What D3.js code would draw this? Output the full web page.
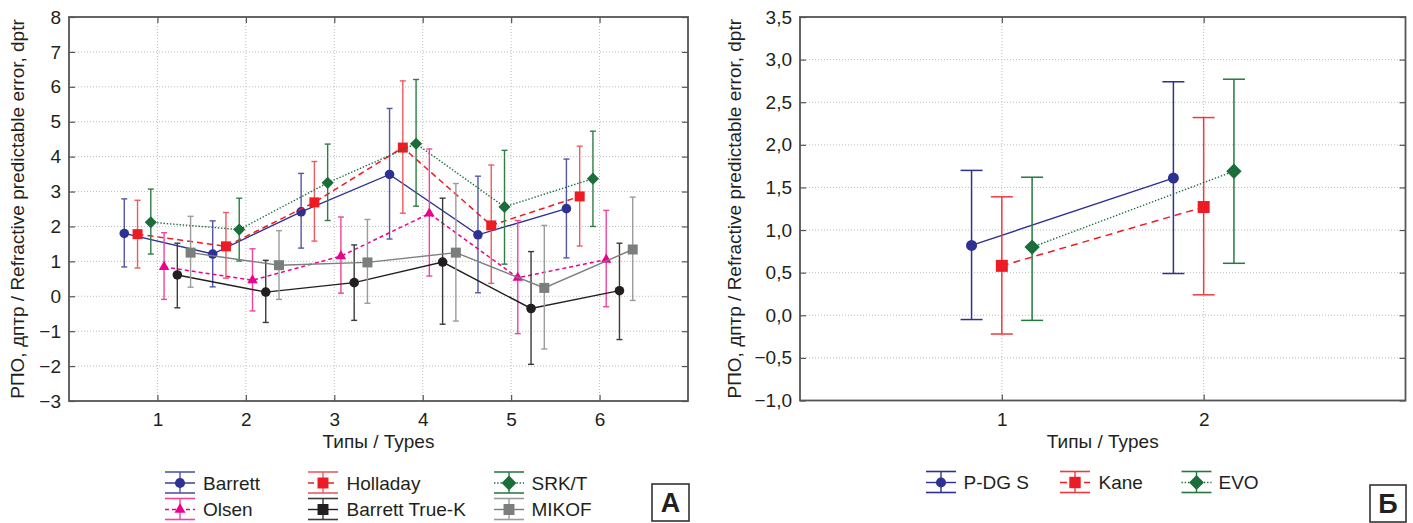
<!DOCTYPE html>
<html><head><meta charset="utf-8">
<script src="https://cdn.jsdelivr.net/npm/d3@7"></script>
<style>
body{margin:0;background:#fff}
svg{display:block}
text{font-family:"Liberation Sans",Arial,Helvetica,sans-serif;fill:#231f20}
</style>
</head><body>
<svg id="chart" width="1413" height="523"></svg>
<script>
// ---------- Panel A data ----------
const typesA = [1, 2, 3, 4, 5, 6];
const yTicksA = [-3, -2, -1, 0, 1, 2, 3, 4, 5, 6, 7, 8];
const namesA = ["Barrett", "Holladay", "SRK/T", "Olsen", "Barrett True-K", "MIKOF"];
const barrettMean = [1.80, 1.21, 2.42, 3.49, 1.76, 2.51];
const barrettHigh = [2.79, 2.16, 3.52, 5.38, 3.44, 3.93];
const barrettLow  = [0.84, 0.27, 1.38, 1.64, 0.10, 1.10];
const holladayMean = [1.78, 1.43, 2.69, 4.26, 2.03, 2.86];
const holladayHigh = [2.75, 2.40, 3.86, 6.17, 3.76, 4.30];
const holladayLow  = [0.81, 0.52, 1.58, 2.38, 0.37, 1.44];
const srktMean = [2.12, 1.91, 3.25, 4.37, 2.56, 3.37];
const srktHigh = [3.07, 2.81, 4.36, 6.21, 4.18, 4.73];
const srktLow  = [1.21, 1.01, 2.17, 2.58, 0.92, 2.00];
const olsenMean = [0.84, 0.46, 1.15, 2.37, 0.53, 1.05];
const olsenHigh = [1.82, 1.36, 2.27, 4.22, 2.17, 2.46];
const olsenLow  = [-0.09, -0.42, 0.09, 0.58, -1.07, -0.30];
const trueKMean = [0.61, 0.12, 0.39, 0.98, -0.35, 0.16];
const trueKHigh = [1.52, 1.03, 1.47, 2.81, 1.28, 1.52];
const trueKLow  = [-0.33, -0.75, -0.69, -0.80, -1.95, -1.24];
const mikofMean = [1.25, 0.89, 0.97, 1.25, 0.24, 1.34];
const mikofHigh = [2.29, 1.88, 2.20, 3.23, 2.03, 2.84];
const mikofLow  = [0.26, -0.09, -0.20, -0.71, -1.51, -0.12];

// ---------- Panel B data ----------
const typesB = [1, 2];
const yTicksB = [-1, -0.5, 0, 0.5, 1, 1.5, 2, 2.5, 3, 3.5];
const namesB = ["P-DG S", "Kane", "EVO"];
const pdgsMean = [0.82, 1.61];
const pdgsHigh = [1.70, 2.74];
const pdgsLow  = [-0.05, 0.49];
const kaneMean = [0.58, 1.27];
const kaneHigh = [1.39, 2.32];
const kaneLow  = [-0.22, 0.24];
const evoMean = [0.80, 1.69];
const evoHigh = [1.62, 2.77];
const evoLow  = [-0.06, 0.61];

const axisTitleY = "РПО, дптр / Refractive predictable error, dptr";
const axisTitleX = "Типы / Types";

// ---------- styles ----------
const BLUE = "#2e3192", RED = "#ed1c24", GREEN = "#1b6e3a", MAG = "#ec008c", BLACK = "#231f20", GRAY = "#7a7e7c";
const styleA = [
  {color: BLUE, err: "#5256a6", dash: null, w: 1.4, sym: "circle", lsym: "circle"},
  {color: RED, err: "#ef5a5e", dash: "6,4", w: 1.5, sym: "square", lsym: "square"},
  {color: GREEN, err: "#2e7d46", dash: "1.4,1.8", w: 1.4, sym: "diamond", lsym: "diamond"},
  {color: MAG, err: "#f0449e", dash: "4,3", w: 1.5, sym: "triangle", lsym: "triangle"},
  {color: BLACK, err: "#3a3a3a", dash: null, w: 1.4, sym: "circle", lsym: "square"},
  {color: GRAY, err: "#9a9c9b", dash: null, w: 1.4, sym: "square", lsym: "square"}
];
const styleB = [
  {color: BLUE, err: BLUE, dash: null, w: 1.4, sym: "circle", lsym: "circle"},
  {color: RED, err: "#ee3a40", dash: "7,5", w: 1.5, sym: "square", lsym: "square"},
  {color: GREEN, err: "#237a40", dash: "1.4,1.8", w: 1.4, sym: "diamond", lsym: "diamond"}
];

const loc = d3.formatLocale({decimal: ",", thousands: " ", grouping: [3], currency: ["", ""], minus: "\u2212"});
const fmtB = loc.format(".1f");
const fmtA = loc.format("d");

const svg = d3.select("#chart");

function symbolPath(kind, s) {
  if (kind === "circle") return d3.symbol().type(d3.symbolCircle).size(s.circle)();
  if (kind === "square") return d3.symbol().type(d3.symbolSquare).size(s.square)();
  if (kind === "diamond") return d3.symbol().type(d3.symbolSquare).size(s.diamond)();
  return d3.symbol().type(d3.symbolTriangle).size(s.triangle)();
}
function symbolRot(kind) { return kind === "diamond" ? " rotate(45)" : ""; }

function drawPanel(cfg) {
  const g = svg.append("g");
  const x = d3.scaleLinear().domain(cfg.xDomain).range([cfg.left, cfg.right]);
  const y = d3.scaleLinear().domain(cfg.yDomain).range([cfg.bottom, cfg.top]);

  // grid
  g.append("g").selectAll("line").data(cfg.yTicks.filter(t => t > cfg.yDomain[0] && t < cfg.yDomain[1]))
    .join("line").attr("x1", cfg.left).attr("x2", cfg.right)
    .attr("y1", d => y(d)).attr("y2", d => y(d))
    .attr("stroke", "#bdbdbd").attr("stroke-width", 1).attr("stroke-dasharray", "1,2");
  g.append("g").selectAll("line").data(cfg.types)
    .join("line").attr("y1", cfg.top).attr("y2", cfg.bottom)
    .attr("x1", d => x(d)).attr("x2", d => x(d))
    .attr("stroke", "#bdbdbd").attr("stroke-width", 1).attr("stroke-dasharray", "1,2");

  // axes (ticks inward on all sides)
  const tl = 6;
  const axL = g.append("g").attr("transform", `translate(${cfg.left},0)`)
    .call(d3.axisLeft(y).tickValues(cfg.yTicks).tickFormat(cfg.fmt).tickSize(-tl).tickPadding(8));
  const axR = g.append("g").attr("transform", `translate(${cfg.right},0)`)
    .call(d3.axisRight(y).tickValues(cfg.yTicks).tickFormat("").tickSize(-tl));
  const axB = g.append("g").attr("transform", `translate(0,${cfg.bottom})`)
    .call(d3.axisBottom(x).tickValues(cfg.types).tickFormat(d3.format("d")).tickSize(-tl).tickPadding(12));
  const axT = g.append("g").attr("transform", `translate(0,${cfg.top})`)
    .call(d3.axisTop(x).tickValues(cfg.types).tickFormat("").tickSize(-tl));
  [axL, axR, axB, axT].forEach(a => {
    a.select(".domain").remove();
    a.selectAll(".tick line").attr("stroke", "#555").attr("stroke-width", 1.2);
    a.selectAll("text").attr("font-size", 19).attr("fill", "#231f20")
      .attr("font-family", '"Liberation Sans", Arial, sans-serif');
  });
  axB.selectAll("text").attr("dy", "0.71em");
  g.append("rect").attr("x", cfg.left).attr("y", cfg.top)
    .attr("width", cfg.right - cfg.left).attr("height", cfg.bottom - cfg.top)
    .attr("fill", "none").attr("stroke", "#555").attr("stroke-width", 1.8);

  // titles
  g.append("text").attr("transform", `translate(${cfg.yTitleX},${(cfg.top + cfg.bottom) / 2}) rotate(-90)`)
    .attr("text-anchor", "middle").attr("font-size", 19).text(axisTitleY);
  g.append("text").attr("x", (cfg.left + cfg.right) / 2).attr("y", 448)
    .attr("text-anchor", "middle").attr("font-size", 19).text(axisTitleX);

  // series
  const n = cfg.series.length;
  cfg.series.forEach((s, i) => {
    const st = cfg.styles[i];
    const off = (i - (n - 1) / 2) * cfg.dodge;
    const pts = cfg.types.map((t, k) => ({x: t + off, m: s.mean[k], lo: s.low[k], hi: s.high[k]}));
    const sg = g.append("g");
    const eb = sg.append("g").attr("stroke", st.err).attr("stroke-width", cfg.errW).attr("fill", "none");
    eb.selectAll("line.v").data(pts).join("line").attr("class", "v")
      .attr("x1", d => x(d.x)).attr("x2", d => x(d.x)).attr("y1", d => y(d.lo)).attr("y2", d => y(d.hi));
    eb.selectAll("line.h").data(pts).join("line").attr("class", "h")
      .attr("x1", d => x(d.x) - cfg.cap / 2).attr("x2", d => x(d.x) + cfg.cap / 2).attr("y1", d => y(d.hi)).attr("y2", d => y(d.hi));
    eb.selectAll("line.l").data(pts).join("line").attr("class", "l")
      .attr("x1", d => x(d.x) - cfg.cap / 2).attr("x2", d => x(d.x) + cfg.cap / 2).attr("y1", d => y(d.lo)).attr("y2", d => y(d.lo));
    sg.append("path").datum(pts)
      .attr("d", d3.line().x(d => x(d.x)).y(d => y(d.m)))
      .attr("fill", "none").attr("stroke", st.color).attr("stroke-width", st.w)
      .attr("stroke-dasharray", st.dash);
    sg.selectAll("path.m").data(pts).join("path").attr("class", "m")
      .attr("d", symbolPath(st.sym, cfg.sym))
      .attr("transform", d => `translate(${x(d.x)},${y(d.m)})${symbolRot(st.sym)}`)
      .attr("fill", st.color);
  });

  // legend
  cfg.series.forEach((s, i) => {
    const st = cfg.styles[i];
    const col = i % 3, row = Math.floor(i / 3);
    const lx = cfg.legSymX[col], tx = cfg.legTextX[col], ly = cfg.legRowY[row];
    const lg = g.append("g");
    const w = 30;
    lg.append("line").attr("x1", lx).attr("x2", lx + w).attr("y1", ly - 11).attr("y2", ly - 11)
      .attr("stroke", st.err).attr("stroke-width", 1.6);
    lg.append("line").attr("x1", lx).attr("x2", lx + w).attr("y1", ly + 10).attr("y2", ly + 10)
      .attr("stroke", st.err).attr("stroke-width", 1.6);
    lg.append("line").attr("x1", lx + w / 2).attr("x2", lx + w / 2).attr("y1", ly - 11).attr("y2", ly + 10)
      .attr("stroke", st.err).attr("stroke-width", 1.4);
    lg.append("line").attr("x1", lx).attr("x2", lx + w).attr("y1", ly).attr("y2", ly)
      .attr("stroke", st.color).attr("stroke-width", st.w).attr("stroke-dasharray", st.dash);
    lg.append("path").attr("d", symbolPath(st.lsym, cfg.legSym))
      .attr("transform", `translate(${lx + w / 2},${ly})${symbolRot(st.lsym)}`).attr("fill", st.color);
    lg.append("text").attr("x", tx).attr("y", ly).attr("dy", "0.35em").attr("font-size", 19).text(s.name);
  });

  // panel letter box
  g.append("rect").attr("x", cfg.box[0]).attr("y", cfg.box[1]).attr("width", cfg.box[2]).attr("height", cfg.box[3])
    .attr("fill", "#fff").attr("stroke", "#333").attr("stroke-width", 1.6);
  g.append("text").attr("x", cfg.box[0] + cfg.box[2] / 2).attr("y", cfg.box[1] + cfg.box[3] / 2)
    .attr("dy", "0.36em").attr("text-anchor", "middle").attr("font-size", 27).attr("font-weight", "bold")
    .attr("fill", "#111").text(cfg.letter);
}

drawPanel({
  left: 69, right: 688, top: 17, bottom: 401,
  xDomain: [0, 7], yDomain: [-3, 8], types: typesA, yTicks: yTicksA, fmt: fmtA,
  yTitleX: 24,
  dodge: 0.15, cap: 6, errW: 1.4,
  sym: {circle: 72, square: 100, diamond: 74, triangle: 48},
  legSym: {circle: 80, square: 120, diamond: 110, triangle: 52},
  series: [
    {name: namesA[0], mean: barrettMean, low: barrettLow, high: barrettHigh},
    {name: namesA[1], mean: holladayMean, low: holladayLow, high: holladayHigh},
    {name: namesA[2], mean: srktMean, low: srktLow, high: srktHigh},
    {name: namesA[3], mean: olsenMean, low: olsenLow, high: olsenHigh},
    {name: namesA[4], mean: trueKMean, low: trueKLow, high: trueKHigh},
    {name: namesA[5], mean: mikofMean, low: mikofLow, high: mikofHigh}
  ],
  styles: styleA,
  legSymX: [165, 308, 494], legTextX: [203, 346.5, 531.5], legRowY: [483, 509.5],
  box: [652, 484, 37, 37], letter: "А"
});

drawPanel({
  left: 800, right: 1405.5, top: 17, bottom: 400.5,
  xDomain: [0, 3], yDomain: [-1, 3.5], types: typesB, yTicks: yTicksB, fmt: fmtB,
  yTitleX: 741,
  dodge: 0.15, cap: 22, errW: 1.5,
  sym: {circle: 95, square: 144, diamond: 118, triangle: 60},
  legSym: {circle: 80, square: 130, diamond: 110, triangle: 52},
  series: [
    {name: namesB[0], mean: pdgsMean, low: pdgsLow, high: pdgsHigh},
    {name: namesB[1], mean: kaneMean, low: kaneLow, high: kaneHigh},
    {name: namesB[2], mean: evoMean, low: evoLow, high: evoHigh}
  ],
  styles: styleB,
  legSymX: [926, 1060, 1181.5], legTextX: [963.5, 1098.5, 1218.5], legRowY: [482.5],
  box: [1370, 485, 36, 37], letter: "Б"
});
</script>
</body></html>
